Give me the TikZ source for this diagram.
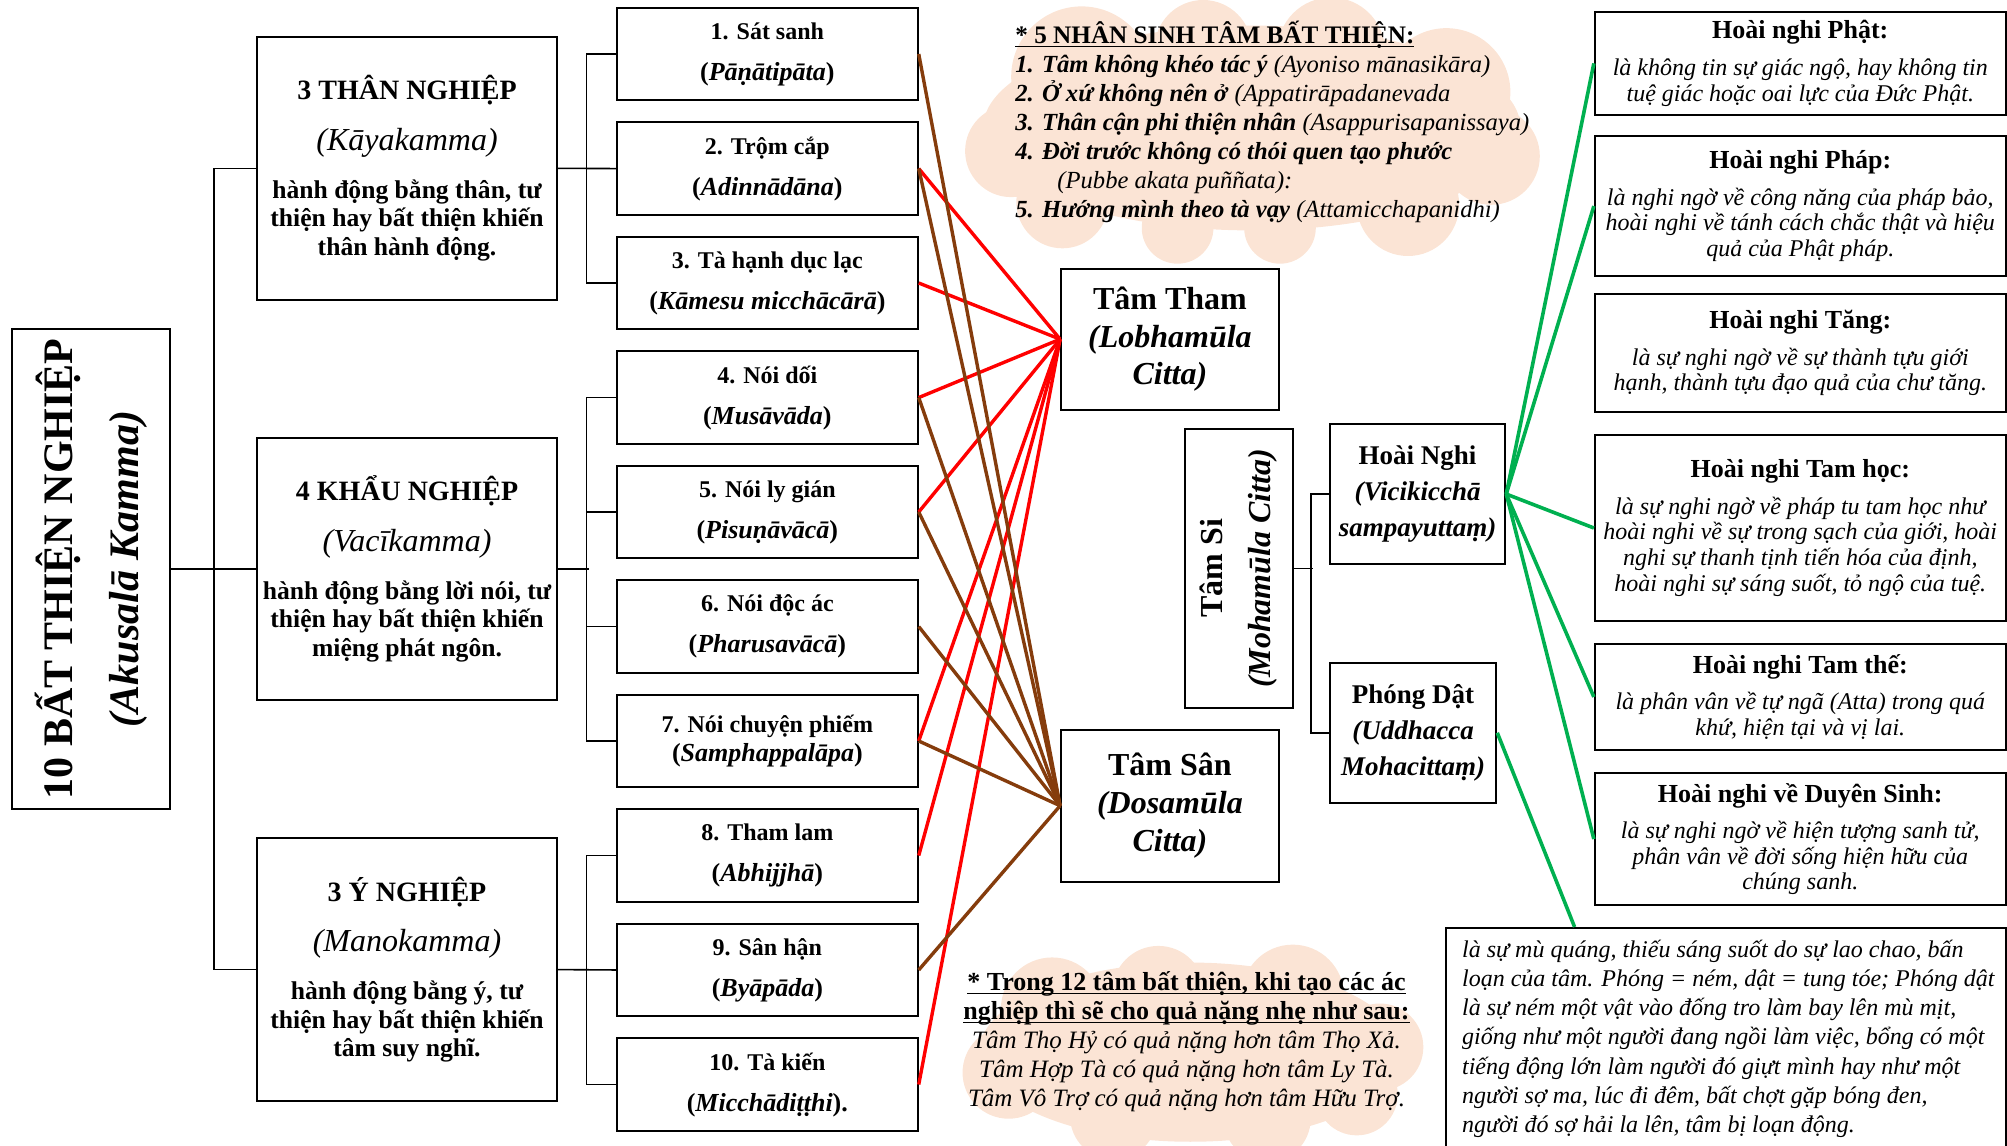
\documentclass[tikz,border=0pt]{standalone}
\usepackage{fontspec}
\setmainfont{Liberation Serif}
\definecolor{puffc}{RGB}{251,228,213}
\definecolor{lred}{RGB}{255,0,0}
\definecolor{lbrown}{RGB}{133,60,12}
\definecolor{lgreen}{RGB}{0,176,80}
\newcommand{\fs}[2]{\fontsize{#1}{#2}\selectfont}
% underline drawn close to the baseline, through the descenders
\newcommand{\ulin}[1]{\setbox0\hbox{#1}\rlap{\rule[-1.8pt]{\wd0}{0.6pt}}\box0}
\begin{document}
\begin{tikzpicture}[x=0.64pt,y=-0.64pt,
  box/.style={draw, line width=1pt, inner sep=0pt, align=center},
  wh/.style 2 args={minimum width=#1*0.64pt, minimum height=#2*0.64pt},
  conn/.style={line width=0.8pt},
  redl/.style={draw=lred, line width=1.7pt},
  brownl/.style={draw=lbrown, line width=1.7pt},
  greenl/.style={draw=lgreen, line width=1.8pt},
  puff/.style={fill=puffc, draw=none},
  catbox/.style={box, wh={234}{205}, font=\fs{12.8}{14.3}},
  itembox/.style={box, wh={235}{72}, font=\bfseries\fs{12}{20.5}},
  cittabox/.style={box, font=\bfseries\fs{16}{18.9}},
  subbox/.style={box, font=\bfseries\fs{13.5}{18}},
  rbox/.style={box, font=\itshape\fs{12}{12.8}},
]
\useasboundingbox (0,0) rectangle (1568,895);
\clip (0,0) rectangle (1568,895);

% clouds behind the notes
\fill[puff] (978,100) ellipse [x radius=210*0.64pt, y radius=80*0.64pt];
\foreach \cx/\cy/\r in {845/60/55, 790/118/36, 830/158/36, 940/38/38, 1040/40/42,
  1130/72/50, 1165/122/38, 1100/160/40, 1000/178/28, 920/178/28}
  \fill[puff] (\cx,\cy) circle [radius=\r*0.64pt];
\fill[puff] (930,822) ellipse [x radius=165*0.64pt, y radius=70*0.64pt];
\foreach \cx/\cy/\r in {822/788/40, 905/775/36, 1010/778/40, 1078/818/34,
  788/838/36, 870/872/34, 990/874/34, 1060/855/32}
  \fill[puff] (\cx,\cy) circle [radius=\r*0.64pt];

% root
\node[box, wh={124}{375}] (main) at (71,444.5) {};
\node[rotate=90, align=center, font=\bfseries\fs{21}{33}] (maintext) at (main.center)
  {10 BẤT THIỆN NGHIỆP\\ \textit{(Akusalā Kamma)}};

% three kinds of kamma
\node[catbox] (cat1) at (318,131.5)
  {{\bfseries\fs{14}{14.3}3 THÂN NGHIỆP}\\[11pt]{\fs{16}{14.3}\itshape (Kāyakamma)}\\[9.7pt]
   {\bfseries hành động bằng thân, tư}\\{\bfseries thiện hay bất thiện khiến}\\{\bfseries thân hành động.}};
\node[catbox] (cat2) at (318,444.5)
  {{\bfseries\fs{14}{14.3}4 KHẨU NGHIỆP}\\[11pt]{\fs{16}{14.3}\itshape (Vacīkamma)}\\[9.7pt]
   {\bfseries hành động bằng lời nói, tư}\\{\bfseries thiện hay bất thiện khiến}\\{\bfseries miệng phát ngôn.}};
\node[catbox] (cat3) at (318,757.5)
  {{\bfseries\fs{14}{14.3}3 Ý NGHIỆP}\\[11pt]{\fs{16}{14.3}\itshape (Manokamma)}\\[9.7pt]
   {\bfseries hành động bằng ý, tư}\\{\bfseries thiện hay bất thiện khiến}\\{\bfseries tâm suy nghĩ.}};

% ten unwholesome deeds
\node[itembox] (it1) at (599.5,42.2) {1. Sát sanh\\{\fs{13}{20.5}(\textit{Pāṇātipāta})}};
\node[itembox] (it2) at (599.5,131.7) {2. Trộm cắp\\{\fs{13}{20.5}(\textit{Adinnādāna})}};
\node[itembox] (it3) at (599.5,221.1) {3. Tà hạnh dục lạc\\{\fs{13}{20.5}(\textit{Kāmesu micchācārā})}};
\node[itembox] (it4) at (599.5,310.6) {4. Nói dối\\{\fs{13}{20.5}(\textit{Musāvāda})}};
\node[itembox] (it5) at (599.5,400.0) {5. Nói ly gián\\{\fs{13}{20.5}(\textit{Pisuṇāvācā})}};
\node[itembox] (it6) at (599.5,489.5) {6. Nói độc ác\\{\fs{13}{20.5}(\textit{Pharusavācā})}};
\node[itembox, font=\bfseries\fs{12}{14.5}] (it7) at (599.5,578.9) {7. Nói chuyện phiếm\\{\fs{13}{14.5}(\textit{Samphappalāpa})}};
\node[itembox] (it8) at (599.5,668.4) {8. Tham lam\\{\fs{13}{20.5}(\textit{Abhijjhā})}};
\node[itembox] (it9) at (599.5,757.8) {9. Sân hận\\{\fs{13}{20.5}(\textit{Byāpāda})}};
\node[itembox] (it10) at (599.5,847.3) {10. Tà kiến\\{\fs{13}{20.5}(\textit{Micchādiṭṭhi}).}};

% root citta
\node[cittabox, wh={170}{110}] (tham) at (914,265) {Tâm Tham\\\textit{(Lobhamūla}\\\textit{Citta)}};
\node[cittabox, wh={170}{119}] (san) at (914,629.5) {Tâm Sân\\\textit{(Dosamūla}\\\textit{Citta)}};
\node[box, wh={84}{218}] (si) at (968,444) {};
\node[rotate=90, align=center, font=\bfseries\fs{16}{24}] (sitext) at (si.center)
  {Tâm Si\\\textit{(Mohamūla Citta)}};
\node[subbox, wh={137}{110}] (hn) at (1107.5,386) {Hoài Nghi\\\textit{(Vicikicchā}\\\textit{sampayuttaṃ)}};
\node[subbox, wh={130}{109}] (pd) at (1104,572.5) {Phóng Dật\\\textit{(Uddhacca}\\\textit{Mohacittaṃ)}};

% kinds of doubt
\node[rbox, wh={321}{81}] (phat) at (1406.5,49.5)
  {{\upshape\bfseries\fs{13}{12.8}Hoài nghi Phật:}\\[5.5pt]là không tin sự giác ngộ, hay không tin\\tuệ giác hoặc oai lực của Đức Phật.};
\node[rbox, wh={321}{110}] (phap) at (1406.5,161)
  {{\upshape\bfseries\fs{13}{12.8}Hoài nghi Pháp:}\\[5.5pt]là nghi ngờ về công năng của pháp bảo,\\hoài nghi về tánh cách chắc thật và hiệu\\quả của Phật pháp.};
\node[rbox, wh={321}{92}] (tang) at (1406.5,276)
  {{\upshape\bfseries\fs{13}{12.8}Hoài nghi Tăng:}\\[5.5pt]là sự nghi ngờ về sự thành tựu giới\\hạnh, thành tựu đạo quả của chư tăng.};
\node[rbox, wh={321}{145}] (hoc) at (1406.5,412.5)
  {{\upshape\bfseries\fs{13}{12.8}Hoài nghi Tam học:}\\[5.5pt]là sự nghi ngờ về pháp tu tam học như\\hoài nghi về sự trong sạch của giới, hoài\\nghi sự thanh tịnh tiến hóa của định,\\hoài nghi sự sáng suốt, tỏ ngộ của tuệ.};
\node[rbox, wh={321}{83}] (the) at (1406.5,544.5)
  {{\upshape\bfseries\fs{13}{12.8}Hoài nghi Tam thế:}\\[5.5pt]là phân vân về tự ngã (Atta) trong quá\\khứ, hiện tại và vị lai.};
\node[rbox, wh={321}{103}] (duyen) at (1406.5,655.5)
  {{\upshape\bfseries\fs{13}{12.8}Hoài nghi về Duyên Sinh:}\\[5.5pt]là sự nghi ngờ về hiện tượng sanh tử,\\phân vân về đời sống hiện hữu của\\chúng sanh.};

% restlessness
\node[box, wh={437}{190}] (desc) at (1348.5,820) {};
\node[anchor=north west, inner sep=0pt, align=left, font=\itshape\fs{12}{14.6}] (desctext) at (1142,734)
  {là sự mù quáng, thiếu sáng suốt do sự lao chao, bấn\\
   loạn của tâm. Phóng = ném, dật = tung tóe; Phóng dật\\
   là sự ném một vật vào đống tro làm bay lên mù mịt,\\
   giống như một người đang ngồi làm việc, bổng có một\\
   tiếng động lớn làm người đó giựt mình hay như một\\
   người sợ ma, lúc đi đêm, bất chợt gặp bóng đen,\\
   người đó sợ hải la lên, tâm bị loạn động.};

% notes
\node[anchor=north west, inner sep=0pt, align=left, font=\fs{12.3}{14.5}] (causes) at (793,16)
  {\ulin{\textbf{\fs{12.6}{14.5}* 5 NHÂN SINH TÂM BẤT THIỆN:}}\\
   \textbf{\textit{1. Tâm không khéo tác ý}} \textit{(Ayoniso mānasikāra)}\\
   \textbf{\textit{2. Ở xứ không nên ở}} \textit{(Appatirāpadanevada}\\
   \textbf{\textit{3. Thân cận phi thiện nhân}} \textit{(Asappurisapanissaya)}\\
   \textbf{\textit{4. Đời trước không có thói quen tạo phước}}\\
   \hspace*{21pt}\textit{(Pubbe akata puññata):}\\
   \textbf{\textit{5. Hướng mình theo tà vạy}} \textit{(Attamicchapanidhi)}};
\node[anchor=north, inner sep=0pt, align=center, font=\fs{12.5}{14.5}] (weight) at (927,759)
  {\ulin{\textbf{\fs{13}{14.5}* Trong 12 tâm bất thiện, khi tạo các ác}}\\
   \ulin{\textbf{\fs{13}{14.5}nghiệp thì sẽ cho quả nặng nhẹ như sau:}}\\
   \textit{Tâm Thọ Hỷ có quả nặng hơn tâm Thọ Xả.}\\
   \textit{Tâm Hợp Tà có quả nặng hơn tâm Ly Tà.}\\
   \textit{Tâm Vô Trợ có quả nặng hơn tâm Hữu Trợ.}};

% tree connectors
\draw[conn] (main.east) -- (cat2.west);
\draw[conn] (cat1.west) -- ++(-33,0) |- (cat3.west);
\draw[conn] (cat1.east) -- (it2.west);
\draw[conn] (it1.west) -- ++(-23,0) |- (it3.west);
\draw[conn] (cat2.east) -- ++(24,0);
\draw[conn] (it4.west) -- ++(-23,0) |- (it7.west);
\draw[conn] (it5.west) -- ++(-23,0);
\draw[conn] (it6.west) -- ++(-23,0);
\draw[conn] (cat3.east) -- (it9.west);
\draw[conn] (it8.west) -- ++(-23,0) |- (it10.west);
\draw[conn] (si.east) -- ++(15,0);
\draw[conn] (hn.west) -- ++(-14,0) |- (pd.west);

% deeds rooted in greed
\foreach \i in {2,3,4,5,7,8,10} \draw[redl] (it\i.east) -- (tham.west);
% deeds rooted in hatred
\foreach \i in {1,2,4,5,6,7,9} \draw[brownl] (it\i.east) -- (san.west);
% doubt and restlessness
\foreach \b in {phat,phap,hoc,the,duyen} \draw[greenl] (hn.east) -- (\b.west);
\draw[greenl] (pd.east) -- ([xshift=64.6pt]desc.north west);
\end{tikzpicture}
\end{document}
